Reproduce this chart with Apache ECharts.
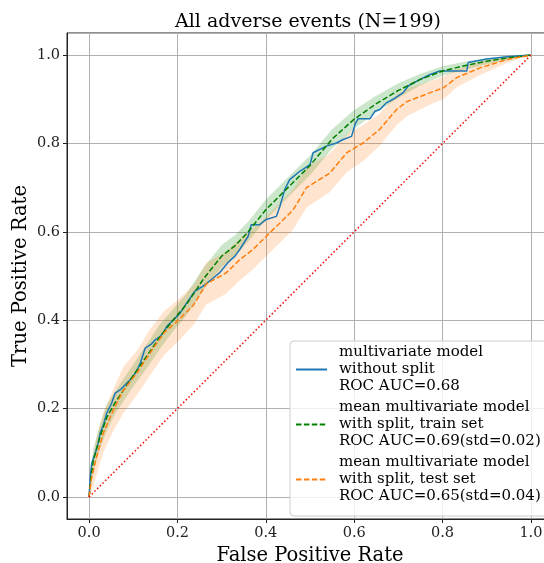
<!DOCTYPE html>
<html>
<head>
<meta charset="utf-8">
<script src="https://cdn.jsdelivr.net/npm/echarts@6/dist/echarts.min.js"></script>
<style>
	html, body { margin: 0; padding: 0; background: #fff; }
	#chart { width: 544px; height: 563px; }
</style>
</head>
<body>
<div id="chart"></div>
<script>
// multivariate model without split (ROC points)
var fullRoc = [
	[0,0],[0.003,0.05],[0.006,0.076],[0.014,0.099],[0.02,0.12],[0.025,0.144],[0.033,0.165],
	[0.04,0.19],[0.051,0.212],[0.059,0.235],[0.07,0.242],[0.078,0.25],[0.09,0.262],[0.1,0.273],
	[0.11,0.29],[0.116,0.303],[0.127,0.337],[0.14,0.345],[0.15,0.356],[0.161,0.363],[0.17,0.375],
	[0.176,0.386],[0.19,0.4],[0.206,0.416],[0.221,0.439],[0.239,0.465],[0.258,0.477],[0.277,0.492],
	[0.295,0.507],[0.314,0.53],[0.33,0.545],[0.341,0.56],[0.36,0.59],[0.367,0.616],[0.386,0.616],
	[0.401,0.628],[0.424,0.635],[0.432,0.658],[0.443,0.696],[0.454,0.718],[0.477,0.737],[0.5,0.752],
	[0.507,0.779],[0.537,0.794],[0.56,0.801],[0.575,0.809],[0.594,0.816],[0.602,0.843],[0.609,0.856],
	[0.636,0.856],[0.647,0.873],[0.658,0.877],[0.673,0.892],[0.688,0.9],[0.711,0.915],[0.722,0.93],
	[0.749,0.945],[0.772,0.956],[0.794,0.964],[0.855,0.964],[0.858,0.983],[0.9,0.991],[0.946,0.996],[1,1]
];

// mean model with split, train set
var trainFpr = [0,0.005,0.01,0.025,0.04,0.06,0.08,0.1,0.13,0.16,0.19,0.22,0.26,0.3,0.33,0.36,0.4,0.45,0.5,0.55,0.6,0.65,0.7,0.75,0.8,0.85,0.9,0.95,1];
var trainTpr = [0,0.05,0.085,0.137,0.18,0.215,0.245,0.275,0.318,0.362,0.4,0.435,0.495,0.545,0.568,0.6,0.65,0.7,0.75,0.81,0.855,0.89,0.92,0.945,0.964,0.976,0.986,0.994,1];
var trainLo  = [0,0.03,0.06,0.11,0.15,0.19,0.22,0.25,0.29,0.335,0.375,0.41,0.47,0.52,0.545,0.578,0.627,0.678,0.728,0.788,0.833,0.87,0.903,0.932,0.953,0.967,0.979,0.989,1];
var trainHi  = [0,0.07,0.11,0.165,0.21,0.24,0.27,0.3,0.345,0.39,0.425,0.46,0.52,0.57,0.592,0.623,0.673,0.723,0.773,0.832,0.876,0.908,0.936,0.958,0.975,0.985,0.993,0.998,1];

// mean model with split, test set
var testFpr = [0,0.005,0.017,0.032,0.055,0.078,0.108,0.138,0.17,0.2,0.237,0.265,0.31,0.341,0.371,0.401,0.432,0.462,0.492,0.545,0.583,0.62,0.658,0.696,0.72,0.772,0.802,0.832,0.885,0.946,1];
var testTpr = [0,0.04,0.091,0.144,0.197,0.242,0.28,0.326,0.372,0.398,0.435,0.482,0.507,0.537,0.56,0.59,0.62,0.65,0.7,0.733,0.779,0.801,0.832,0.877,0.895,0.915,0.926,0.949,0.971,0.99,1];
var testLo  = [0,0.01,0.05,0.1,0.15,0.19,0.23,0.275,0.322,0.35,0.39,0.435,0.46,0.49,0.515,0.545,0.575,0.605,0.655,0.69,0.735,0.76,0.795,0.842,0.862,0.888,0.9,0.927,0.955,0.982,1];
var testHi  = [0,0.07,0.135,0.19,0.245,0.295,0.33,0.38,0.42,0.445,0.48,0.53,0.555,0.585,0.607,0.635,0.665,0.697,0.745,0.777,0.82,0.842,0.868,0.91,0.925,0.94,0.951,0.968,0.985,0.997,1];

var chanceLine = [[0,0],[1,1]];

var names = [
	'multivariate model\nwithout split\nROC AUC=0.68',
	'mean multivariate model\nwith split, train set\nROC AUC=0.69(std=0.02)',
	'mean multivariate model\nwith split, test set\nROC AUC=0.65(std=0.04)'
];

var FONT = 'DejaVu Serif';

function pairs(xs, ys){
	var out = [];
	for(var i=0; i<xs.length; i++){
		out.push([xs[i], ys[i]]);
	}
	return out;
}

function bandData(xs, lo, hi){
	var out = [];
	for(var i=0; i<xs.length; i++){
		out.push([xs[i], lo[i], hi[i]]);
	}
	return out;
}

function bandRender(color){
	return function(params, api){
		if(params.dataIndex !== 0) return null;
		var n = params.dataInsideLength;
		var pts = [];
		for(var i=0; i<n; i++){
			pts.push(api.coord([api.value(0, i), api.value(2, i)]));
		}
		for(var j=n-1; j>=0; j--){
			pts.push(api.coord([api.value(0, j), api.value(1, j)]));
		}
		return {
			type: 'polygon',
			shape: { points: pts },
			style: { fill: color }
		};
	};
}

function axisCommon(name, gap){
	return {
		type: 'value',
		min: -0.05,
		max: 1.05,
		splitNumber: 5,
		name: name,
		nameLocation: 'middle',
		nameGap: gap,
		nameMoveOverlap: false,
		nameTextStyle: { fontFamily: FONT, fontSize: 19.5, color: '#000' },
		axisLine: { show: true, onZero: false, lineStyle: { color: '#222', width: 1 } },
		axisTick: { show: true, length: 4, lineStyle: { color: '#222' } },
		axisLabel: {
			showMinLabel: false,
			showMaxLabel: false,
			fontFamily: FONT,
			fontSize: 14.5,
			color: '#222',
			margin: 7,
			formatter: function(v){ return v.toFixed(1); }
		},
		splitLine: { show: true, lineStyle: { color: '#b0b0b0', width: 1 } }
	};
}

var chart = echarts.init(document.getElementById('chart'));

var xAxis = axisCommon('False Positive Rate', 27);
var yAxis = axisCommon('True Positive Rate', 36);

var option = {
	animation: false,
	backgroundColor: '#fff',
	title: {
		text: 'All adverse events (N=199)',
		left: 170,
		top: 8,
		textStyle: { fontFamily: FONT, fontSize: 19, fontWeight: 'normal', color: '#000' }
	},
	grid: {
		left: 67,
		right: -9,
		top: 33,
		bottom: 44,
		outerBoundsMode: 'none',
		containLabel: false,
		show: true,
		borderColor: '#222',
		borderWidth: 1
	},
	legend: {
		data: names,
		orient: 'vertical',
		left: 290,
		top: 341,
		padding: [3, 14, 11, 5],
		itemGap: 4,
		itemWidth: 31,
		itemHeight: 2,
		itemStyle: { color: 'transparent', borderColor: 'transparent', borderWidth: 0 },
		backgroundColor: 'rgba(255,255,255,0.8)',
		borderColor: '#cccccc',
		borderWidth: 1,
		borderRadius: 4,
		textStyle: { fontFamily: FONT, fontSize: 15, lineHeight: 17, color: '#000', padding: [0, 0, 0, 7] }
	},
	xAxis: xAxis,
	yAxis: yAxis,
	series: [
		{
			type: 'custom',
			silent: true,
			z: 1,
			renderItem: bandRender('rgba(0,128,0,0.2)'),
			encode: { x: 0, y: [1, 2] },
			data: bandData(trainFpr, trainLo, trainHi)
		},
		{
			type: 'custom',
			silent: true,
			z: 2,
			renderItem: bandRender('rgba(255,127,14,0.2)'),
			encode: { x: 0, y: [1, 2] },
			data: bandData(testFpr, testLo, testHi)
		},
		{
			name: names[0],
			type: 'line',
			z: 3,
			symbol: 'none',
			color: '#1f77b4',
			lineStyle: { color: '#1f77b4', width: 1.5 },
			data: fullRoc
		},
		{
			name: names[1],
			type: 'line',
			z: 4,
			symbol: 'none',
			color: 'green',
			lineStyle: { color: 'green', width: 1.5, type: [5.5, 2.4] },
			data: pairs(trainFpr, trainTpr)
		},
		{
			name: names[2],
			type: 'line',
			z: 5,
			symbol: 'none',
			color: '#ff7f0e',
			lineStyle: { color: '#ff7f0e', width: 1.5, type: [5.5, 2.4] },
			data: pairs(testFpr, testTpr)
		},
		{
			type: 'line',
			z: 6,
			symbol: 'none',
			silent: true,
			lineStyle: { color: 'red', width: 1.5, type: [1.5, 2.3] },
			data: chanceLine
		}
	]
};

chart.setOption(option);
</script>
</body>
</html>
